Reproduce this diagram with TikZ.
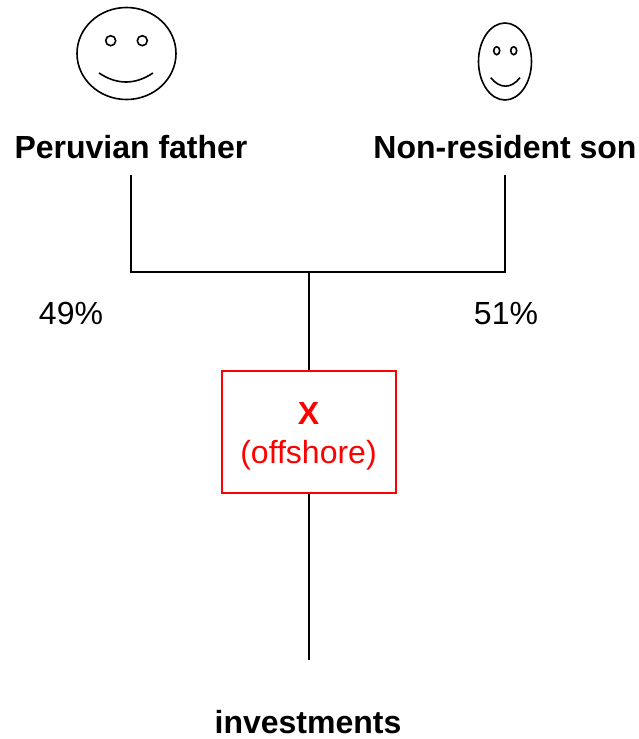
\documentclass[tikz,border=0pt]{standalone}
\usepackage{fontspec}
\setmainfont{Liberation Sans}
\definecolor{xred}{RGB}{255,0,0}
\tikzset{
  line/.style={draw=black,line width=2pt},
  facepen/.style={draw=black,line width=1.6pt},
  lab/.style={font=\fontsize{32}{36}\selectfont\bfseries,inner sep=0pt},
  pct/.style={font=\fontsize{32}{36}\selectfont,inner sep=0pt}
}
\begin{document}
\begin{tikzpicture}[x=1pt,y=-1pt]
\useasboundingbox (0,0) rectangle (639,739);
\draw[facepen] (126.5,53.5) ellipse (49.5 and 46);
\draw[facepen] (110.7,40.7) circle (5);
\draw[facepen] (142.3,40.7) circle (5);
\draw[facepen] (99,73) .. controls (117,85) and (135,85) .. (153,73);
\draw[facepen] (505,61.5) ellipse (26.5 and 38.5);
\draw[facepen] (496.7,50.7) ellipse (3 and 4);
\draw[facepen] (513.7,50.7) ellipse (3 and 4);
\draw[facepen] (490.7,77.7) .. controls (500,89) and (511,89) .. (520,77.7);
\node[lab,anchor=base] (father) at (131,158) {Peruvian father};
\node[lab,anchor=base] (son) at (505,158) {Non-resident son};
\node[pct,anchor=base] (p49) at (71,324) {49\%};
\node[pct,anchor=base] (p51) at (506,324) {51\%};
\node[draw=xred,line width=2pt,minimum width=174pt,minimum height=122pt,inner sep=0pt] (x) at (308.5,431.5) {};
\node[lab,text=xred,anchor=base] (xa) at (308.5,424) {X};
\node[pct,text=xred,anchor=base] (xb) at (308.5,463) {(offshore)};
\node[lab,anchor=base] (inv) at (308,733.5) {investments};
\coordinate (fb) at (131,175);
\coordinate (sb) at (505,175);
\coordinate (j) at (308.5,272);
\coordinate (end) at (308.5,660);
\draw[line] (fb) |- (j) -| (sb);
\draw[line] (j) -- (x.north);
\draw[line] (x.south) -- (end);
\end{tikzpicture}
\end{document}
